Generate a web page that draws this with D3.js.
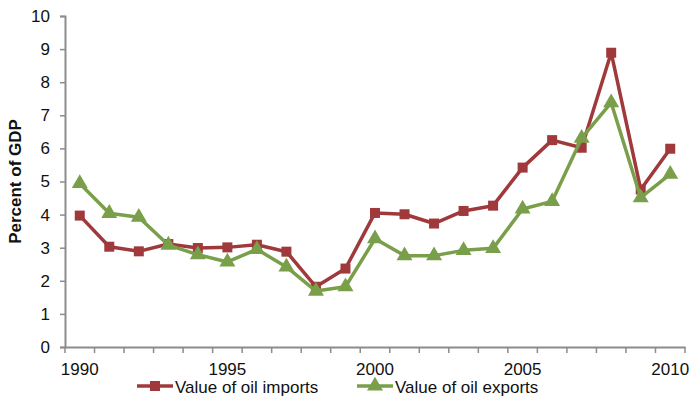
<!DOCTYPE html>
<html>
<head>
<meta charset="utf-8">
<script src="https://cdn.jsdelivr.net/npm/d3@7"></script>
<style>
  body { margin: 0; background: #fff; }
  text { font-family: "Liberation Sans", Arial, Helvetica, sans-serif; }
</style>
</head>
<body>
<script>
//==============================================================================
// data

var years = d3.range(1990, 2011);
var tickYears = [1990, 1995, 2000, 2005, 2010];
var yTicks = [0, 1, 2, 3, 4, 5, 6, 7, 8, 9, 10];

var oilImports = [3.97, 3.03, 2.89, 3.11, 2.99, 3.01, 3.09, 2.88, 1.82, 2.37,
                  4.05, 4.01, 3.73, 4.11, 4.27, 5.42, 6.25, 6.02, 8.89, 4.76, 5.99];
var oilExports = [4.94, 4.04, 3.92, 3.08, 2.79, 2.57, 2.95, 2.42, 1.69, 1.82,
                  3.27, 2.76, 2.76, 2.92, 2.98, 4.17, 4.40, 6.31, 7.38, 4.51, 5.22];

var seriesNames = ["Value of oil imports", "Value of oil exports"];
var seriesColors = ["#a0393b", "#7a9f4a"];

//==============================================================================

var totalWidth = 691, totalHeight = 399;
var margin = {left: 65, right: 6, top: 16, bottom: 52};
var fontSize = "17px";

var svg = d3.select("body").append("svg")
    .attr("width", totalWidth)
    .attr("height", totalHeight);

var x = d3.scaleBand()
    .domain(years)
    .range([margin.left, totalWidth - margin.right]);

var y = d3.scaleLinear()
    .domain([0, 10])
    .range([totalHeight - margin.bottom, margin.top]);

var axisColor = "#8c8c8c";

// y axis
var yAxis = svg.append("g")
    .attr("transform", "translate(" + margin.left + ",0)")
    .call(d3.axisLeft(y).tickValues(yTicks).tickSize(5).tickPadding(10));
yAxis.select(".domain").attr("stroke", axisColor).attr("stroke-width", 2);
yAxis.selectAll(".tick line").attr("stroke", axisColor).attr("stroke-width", 1.5);
yAxis.selectAll(".tick text").attr("font-size", fontSize).attr("fill", "#111");

// x axis: ticks between categories, labels every fifth year
var xAxis = svg.append("g")
    .attr("transform", "translate(0," + y(0) + ")")
    .call(d3.axisBottom(x).tickValues([]).tickSizeOuter(0));
xAxis.select(".domain").attr("stroke", axisColor).attr("stroke-width", 2);

var bounds = years.map(function(d) { return x(d); }).concat([x.range()[1]]);
xAxis.selectAll("line.sep")
    .data(bounds)
    .enter().append("line")
    .attr("class", "sep")
    .attr("x1", function(d) { return d; })
    .attr("x2", function(d) { return d; })
    .attr("y1", 0).attr("y2", 6)
    .attr("stroke", axisColor).attr("stroke-width", 1.5);

xAxis.selectAll("text.lbl")
    .data(tickYears)
    .enter().append("text")
    .attr("class", "lbl")
    .attr("x", function(d) { return x(d) + x.bandwidth() / 2; })
    .attr("y", 28)
    .attr("text-anchor", "middle")
    .attr("font-size", fontSize)
    .attr("fill", "#111")
    .text(function(d) { return d; });

// y label
svg.append("text")
    .attr("transform", "translate(21," + y(5) + ") rotate(-90)")
    .attr("text-anchor", "middle")
    .attr("font-size", fontSize)
    .attr("font-weight", "bold")
    .attr("fill", "#111")
    .text("Percent of GDP");

//==============================================================================
// series

var cx = function(d, i) { return x(years[i]) + x.bandwidth() / 2; };
var line = d3.line()
    .x(cx)
    .y(function(d) { return y(d); });

var triangle = d3.symbol().type(d3.symbolTriangle).size(110);

function drawSeries(values, color, marker) {
    var g = svg.append("g");
    g.append("path")
        .datum(values)
        .attr("fill", "none")
        .attr("stroke", color)
        .attr("stroke-width", 3.5)
        .attr("stroke-linejoin", "round")
        .attr("d", line);
    if (marker === "square") {
        g.selectAll("rect")
            .data(values)
            .enter().append("rect")
            .attr("x", function(d, i) { return cx(d, i) - 5; })
            .attr("y", function(d) { return y(d) - 5; })
            .attr("width", 10).attr("height", 10)
            .attr("fill", color);
    } else {
        g.selectAll("path.tri")
            .data(values)
            .enter().append("path")
            .attr("class", "tri")
            .attr("d", triangle)
            .attr("transform", function(d, i) { return "translate(" + cx(d, i) + "," + y(d) + ")"; })
            .attr("fill", color);
    }
}

drawSeries(oilImports, seriesColors[0], "square");
drawSeries(oilExports, seriesColors[1], "triangle");

//==============================================================================
// legend

var legendItems = [
    {name: seriesNames[0], color: seriesColors[0], marker: "square", x: 137},
    {name: seriesNames[1], color: seriesColors[1], marker: "triangle", x: 357}
];
var legendY = 386;

legendItems.forEach(function(it) {
    var g = svg.append("g").attr("transform", "translate(" + it.x + "," + legendY + ")");
    g.append("line")
        .attr("x1", 0).attr("x2", 36).attr("y1", 0).attr("y2", 0)
        .attr("stroke", it.color).attr("stroke-width", 3.5);
    if (it.marker === "square") {
        g.append("rect").attr("x", 13).attr("y", -5).attr("width", 10).attr("height", 10)
            .attr("fill", it.color);
    } else {
        g.append("path").attr("d", triangle).attr("transform", "translate(18,0)")
            .attr("fill", it.color);
    }
    g.append("text")
        .attr("x", 38).attr("y", 7)
        .attr("font-size", fontSize)
        .attr("fill", "#111")
        .text(it.name);
});
</script>
</body>
</html>
